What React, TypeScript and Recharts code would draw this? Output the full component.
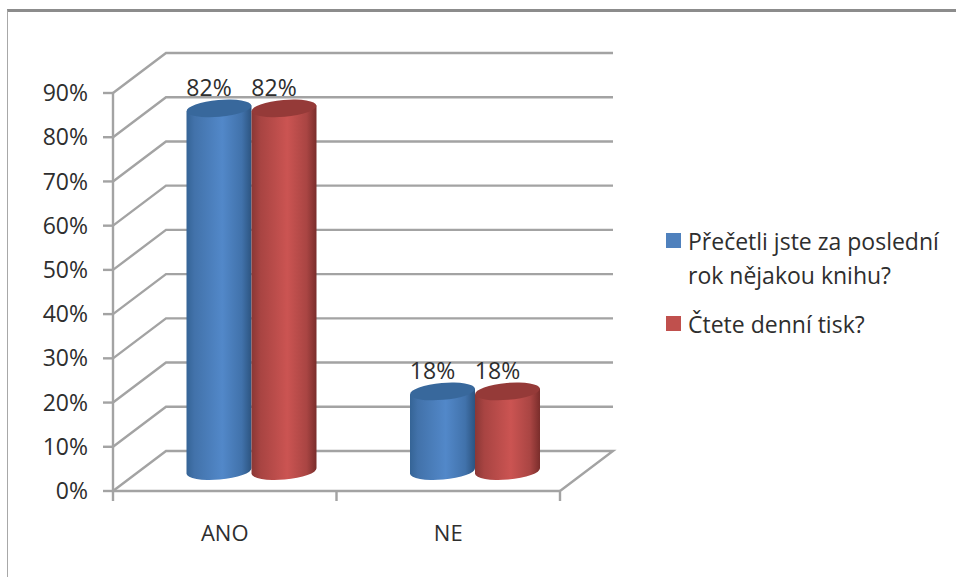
import React from 'react';
import { BarChart, Bar, XAxis, YAxis, CartesianGrid, Legend } from 'recharts';

const categories = ['ANO', 'NE'];
const knihaValues = [82, 18];
const tiskValues = [82, 18];
const percentTicks = [0, 10, 20, 30, 40, 50, 60, 70, 80, 90];
const knihaName = ['Přečetli jste za poslední', 'rok nějakou knihu?'];
const tiskName = ['Čtete denní tisk?'];

const data = categories.map((name, i) => ({ name, kniha: knihaValues[i], tisk: tiskValues[i] }));

const FONT = '"Open Sans", sans-serif';
const AXIS_COLOR = '#a3a3a3';
const TEXT_COLOR = '#2e2e2e';

// depth of the 3D box, and where the cylinders stand inside it
const DEPTH_X = 53;
const DEPTH_Y = -40;
const MID_X = DEPTH_X / 2;
const MID_Y = DEPTH_Y / 2;
const TILT = -5;
const X_TICK = 10;

// each grid line turns into side wall + back wall, the zero line also draws the floor
// and the category separators under it
const WallLine = (props: any) => {
  const { x1, x2, y1, index } = props;
  const isFloor = y1 >= 490;
  const backY = y1 + DEPTH_Y;
  let d = `M${x1},${y1} L${x1 + DEPTH_X},${backY} L${x2 + DEPTH_X},${backY}`;
  if (isFloor) {
    d += ` L${x2},${y1}`;
    categories.concat('').forEach((_, i) => {
      const tx = x1 + ((x2 - x1) * i) / categories.length;
      d += ` M${tx},${y1} L${tx},${y1 + X_TICK}`;
    });
  }
  return <path key={index ?? y1} d={d} fill="none" stroke={AXIS_COLOR} strokeWidth={2.4} />;
};

const Cylinder = (props: any) => {
  const { x, y, width, height, gradient, topColor } = props;
  const left = x + MID_X;
  const right = left + width;
  const cx = left + width / 2;
  const top = y + MID_Y;
  const bottom = top + height;
  const rx = width / 2;
  const ry = 8.5;
  const lift = rx * Math.sin((TILT * Math.PI) / 180);
  const body = `M${left},${top - lift} L${left},${bottom - lift} A${rx},${ry} ${TILT} 0 0 ${right},${bottom + lift} L${right},${top + lift} Z`;
  return (
    <g>
      <path d={body} fill={`url(#${gradient})`} />
      <ellipse cx={cx} cy={top} rx={rx} ry={ry} fill={topColor} transform={`rotate(${TILT} ${cx} ${top})`} />
    </g>
  );
};

const ValueLabel = (props: any) => {
  const { x, y, width, value } = props;
  return (
    <text x={x + width / 2 + MID_X - 10} y={y + MID_Y - 12} textAnchor="middle" fontSize={23} fontFamily={FONT} fill={TEXT_COLOR}>
      {value}%
    </text>
  );
};

const legendRows = [
  { lines: knihaName, color: '#4f81bd' },
  { lines: tiskName, color: '#c0504d' },
];

const ChartLegend = () => (
  <div style={{ width: 296, fontFamily: FONT, fontSize: 23, lineHeight: '34px', color: TEXT_COLOR }}>
    {legendRows.map((row) => (
      <div key={row.lines[0]} style={{ display: 'flex', marginBottom: 15 }}>
        <span style={{ width: 15, height: 15, marginTop: 9, marginRight: 7, background: row.color, flexShrink: 0 }} />
        <span>
          {row.lines.map((line) => (
            <div key={line} style={{ whiteSpace: 'nowrap' }}>{line}</div>
          ))}
        </span>
      </div>
    ))}
  </div>
);

export default function App() {
  return (
    <div style={{ position: 'absolute', left: 0, top: 0, width: 956, height: 577, background: '#fff', overflow: 'hidden' }}>
      {/* frame around the chart object, open at the right and bottom */}
      <div style={{ position: 'absolute', left: 7, top: 9, width: 949, height: 568, borderTop: '3px solid #8c8c8c', borderLeft: '1.5px solid #a8a8a8' }} />
      <BarChart
        width={956}
        height={577}
        data={data}
        barSize={65}
        barGap={0}
        margin={{ top: 93, right: 100, left: 0, bottom: 0 }}
        style={{ position: 'absolute', left: 0, top: 0 }}
      >
        <defs>
          <linearGradient id="blueBody" x1="0" y1="0" x2="1" y2="0">
            <stop offset="0%" stopColor="#356496" />
            <stop offset="12%" stopColor="#4272aa" />
            <stop offset="55%" stopColor="#5288c9" />
            <stop offset="85%" stopColor="#4172ab" />
            <stop offset="100%" stopColor="#2c5480" />
          </linearGradient>
          <linearGradient id="redBody" x1="0" y1="0" x2="1" y2="0">
            <stop offset="0%" stopColor="#8a3735" />
            <stop offset="14%" stopColor="#a84442" />
            <stop offset="55%" stopColor="#cb5452" />
            <stop offset="85%" stopColor="#a94543" />
            <stop offset="100%" stopColor="#7a2d2b" />
          </linearGradient>
        </defs>
        <CartesianGrid horizontal={WallLine} vertical={false} syncWithTicks />
        <XAxis
          dataKey="name"
          height={86}
          stroke={AXIS_COLOR}
          strokeWidth={2.4}
          tickLine={false}
          tickSize={10}
          tickMargin={24}
          tick={{ fill: TEXT_COLOR, fontSize: 22, fontFamily: FONT }}
        />
        <YAxis
          width={113}
          domain={[0, 90]}
          ticks={percentTicks}
          interval={0}
          tickFormatter={(v) => `${v}%`}
          stroke={AXIS_COLOR}
          strokeWidth={2.4}
          tickSize={10}
          tickMargin={15}
          tick={{ fill: TEXT_COLOR, fontSize: 23, fontFamily: FONT }}
          tickLine={{ stroke: AXIS_COLOR, strokeWidth: 2.4 }}
        />
        <Legend
          layout="vertical"
          align="right"
          verticalAlign="top"
          width={296}
          content={<ChartLegend />}
          wrapperStyle={{ left: 666, top: 224, right: 'auto' }}
        />
        <Bar
          dataKey="kniha"
          isAnimationActive={false}
          shape={<Cylinder gradient="blueBody" topColor="#38689c" />}
          label={<ValueLabel />}
        />
        <Bar
          dataKey="tisk"
          isAnimationActive={false}
          shape={<Cylinder gradient="redBody" topColor="#953a38" />}
          label={<ValueLabel />}
        />
      </BarChart>
    </div>
  );
}
